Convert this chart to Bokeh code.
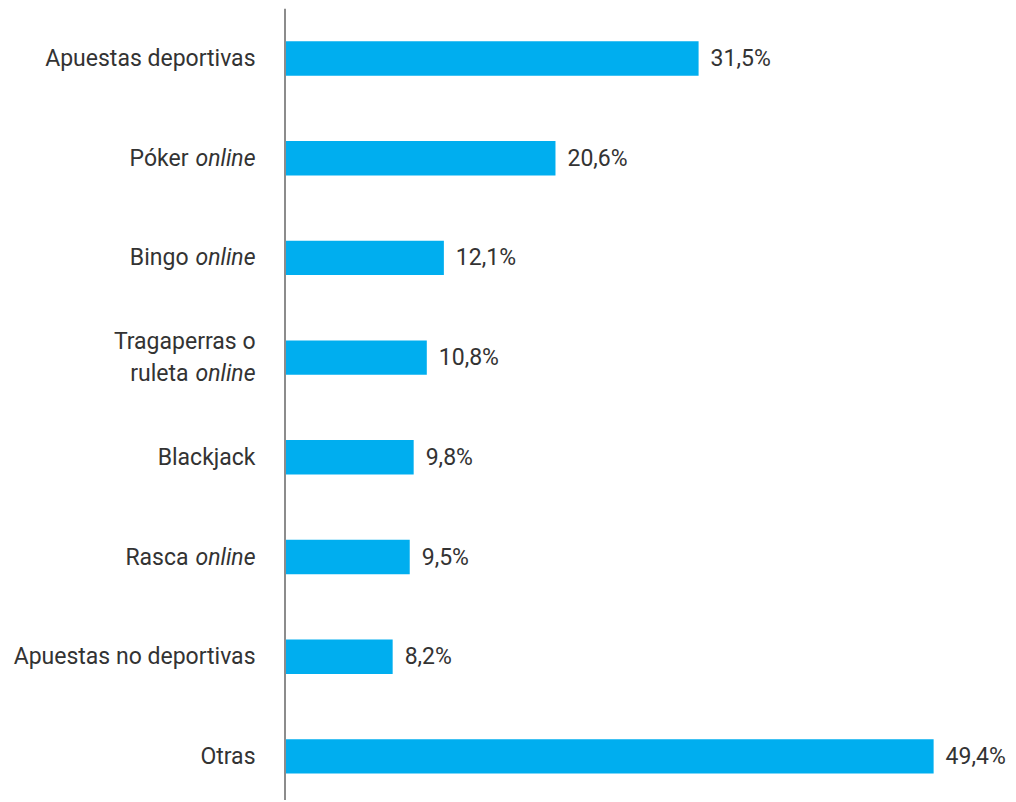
from bokeh.plotting import figure
from bokeh.models import Range1d, ColumnDataSource
from bokeh.core.properties import value
from bokeh.embed import file_html
from bokeh.resources import INLINE

# ---- data ----
cat_main = ["Apuestas deportivas", "Póker", "Bingo", "Tragaperras o\nruleta",
            "Blackjack", "Rasca", "Apuestas no deportivas", "Otras"]
cat_italic = ["", "online", "online", "online", "", "online", "", ""]
values = [31.5, 20.6, 12.1, 10.8, 9.8, 9.5, 8.2, 49.4]

FONT = "Roboto"
TXT = "#333333"
BAR = "#00AEEF"
FS = "23px"

W, H = 1010, 800
AXIS_X = 284.5      # pixel of value 0
PX_PER = 13.13      # pixels per percent
ROW0, ROWSP = 58.0, 99.7

idx = list(range(len(values)))
src = ColumnDataSource(dict(
    y=idx, v=values,
    lab=[("%.1f%%" % v).replace(".", ",") for v in values],
))

p = figure(width=W, height=H, output_backend="svg", toolbar_location=None,
           x_range=Range1d(-AXIS_X / PX_PER, (W - AXIS_X) / PX_PER),
           y_range=Range1d((H - ROW0) / ROWSP, -ROW0 / ROWSP),
           min_border_left=0, min_border_right=0, min_border_top=0, min_border_bottom=0)
p.xaxis.visible = False
p.yaxis.visible = False
p.grid.visible = False
p.outline_line_color = None
p.background_fill_color = "white"
p.border_fill_color = "white"

p.hbar(y="y", left=0, right="v", height=0.345, source=src, color=BAR, line_color=None)
p.text(x="v", y="y", text="lab", source=src, x_offset=12, text_baseline="middle",
       text_align="left", text_font=value(FONT), text_font_size=FS, text_color=TXT)

# vertical axis line
p.segment(x0=[0], y0=[-0.5], x1=[0], y1=[len(values)], line_color="#8c8c8c", line_width=2)

# category labels (regular + italic parts)
ital_w = 67  # pixel width of " online" in italic
reg = dict(x=[], y=[], t=[], xo=[], yo=[])
itl = dict(x=[], y=[], t=[], xo=[], yo=[])
for i, (m, it) in enumerate(zip(cat_main, cat_italic)):
    lines = m.split("\n")
    n = len(lines)
    for k, line in enumerate(lines):
        dy = (k - (n - 1) / 2) * 32
        last = (k == n - 1)
        off = -29.5 - (ital_w if (it and last) else 0)
        reg["x"].append(0); reg["y"].append(i); reg["t"].append(line)
        reg["xo"].append(off); reg["yo"].append(dy)
        if it and last:
            itl["x"].append(0); itl["y"].append(i); itl["t"].append(it)
            itl["xo"].append(-29.5); itl["yo"].append(dy)

p.text(x="x", y="y", text="t", x_offset="xo", y_offset="yo", source=ColumnDataSource(reg),
       text_align="right", text_baseline="middle", text_font=value(FONT),
       text_font_size=FS, text_color=TXT)
p.text(x="x", y="y", text="t", x_offset="xo", y_offset="yo", source=ColumnDataSource(itl),
       text_align="right", text_baseline="middle", text_font=value(FONT),
       text_font_style="italic", text_font_size=FS, text_color=TXT)

open("out.html", "w").write(file_html(p, INLINE))
